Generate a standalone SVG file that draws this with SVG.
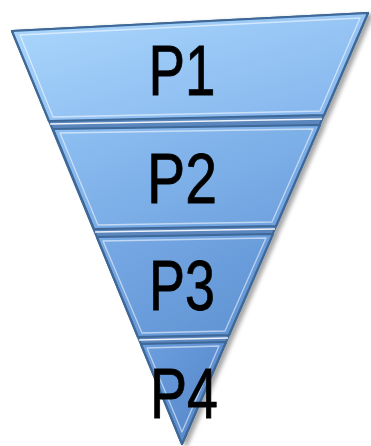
<svg xmlns="http://www.w3.org/2000/svg" width="371" height="446" viewBox="0 0 371 446">
<defs>
<style>
.seg{stroke:#3d6797;stroke-width:2.2;stroke-linejoin:round}
.hl{fill:none;stroke:#ffffff;stroke-opacity:.55;stroke-width:1.3;stroke-linejoin:round}
.gap{stroke:#ffffff;stroke-width:1.6;stroke-opacity:.9}
.lbl{font-family:"Liberation Sans",Arial,sans-serif;font-size:70px;fill:#000;stroke:#000;stroke-width:.8;text-anchor:middle}
</style>
<linearGradient id="g1" x1="0" y1="0" x2="1" y2="1"><stop offset="0" stop-color="#acd8fd"/><stop offset="1" stop-color="#82b3ec"/></linearGradient>
<linearGradient id="g2" x1="0" y1="0" x2="1" y2="1"><stop offset="0" stop-color="#8fc0f3"/><stop offset="1" stop-color="#6c9fdd"/></linearGradient>
<linearGradient id="g3" x1="0" y1="0" x2="1" y2="1"><stop offset="0" stop-color="#78aae6"/><stop offset="1" stop-color="#5e91d1"/></linearGradient>
<linearGradient id="g4" x1="0" y1="0" x2="1" y2="1"><stop offset="0" stop-color="#6c9fdf"/><stop offset="1" stop-color="#5384c6"/></linearGradient>
<filter id="sh" x="-10%" y="-10%" width="125%" height="125%"><feDropShadow dx="4" dy="2" stdDeviation="2" flood-color="#000" flood-opacity=".35"/></filter>
</defs>
<g filter="url(#sh)">
<polygon fill="#5a86bd" stroke="#3d6797" stroke-width="2" stroke-linejoin="round" points="12,31 368,13 182,444"/>
<g id="p1">
<polygon class="seg" fill="url(#g1)" points="12,31 368,13 324,115 49,121"/>
<polygon class="hl" points="20,35 360,18 320,111 53,117"/>
<text class="lbl" x="182" y="95" textLength="67" lengthAdjust="spacingAndGlyphs">P1</text>
</g>
<g id="p2">
<polygon class="seg" fill="url(#g2)" points="53,129 320,125 276,226 94,229"/>
<polygon class="hl" points="60,133 313,129 272,222 98,225"/>
<text class="lbl" x="182" y="203" textLength="70" lengthAdjust="spacingAndGlyphs">P2</text>
</g>
<g id="p3">
<polygon class="seg" fill="url(#g3)" points="97,237 273,234 229,335 138,337"/>
<polygon class="hl" points="103,241 266,238 225,331 142,333"/>
<text class="lbl" x="182" y="310" textLength="66" lengthAdjust="spacingAndGlyphs">P3</text>
</g>
<g id="p4">
<polygon class="seg" fill="url(#g4)" points="141,344 226,342 182,444"/>
<polygon class="hl" points="147,348 219,346 182,432"/>
</g>
<line class="gap" x1="50" y1="124" x2="322" y2="119"/>
<line class="gap" x1="95" y1="232" x2="275" y2="229"/>
<line class="gap" x1="139" y1="340" x2="228" y2="338"/>
</g>
<text class="lbl" x="184" y="418" textLength="68" lengthAdjust="spacingAndGlyphs">P4</text>
</svg>
